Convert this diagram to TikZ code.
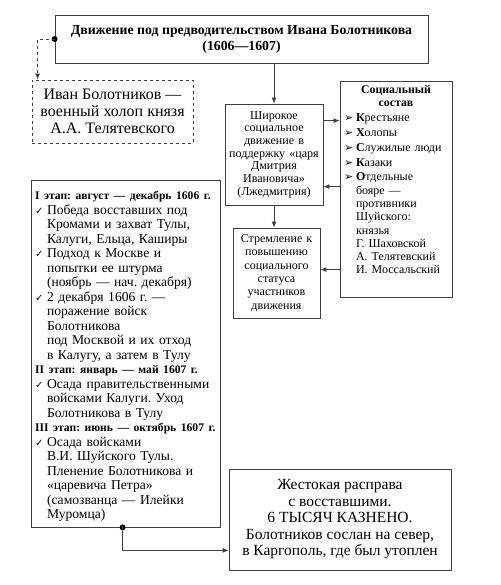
\documentclass[tikz,border=0pt]{standalone}
\usepackage{fontspec}
\setmainfont{Liberation Serif}
\newfontfamily\symfont{DejaVu Sans}
\usepackage{xcolor}
\usepackage{tikz}
\usetikzlibrary{arrows.meta,calc,positioning}
\frenchspacing

\newcommand{\chk}{\par\noindent\makebox[12pt][l]{\symfont\fontsize{10}{10}\selectfont ✓}}
\newcommand{\arrit}{\par\vspace{1.5pt}\noindent\makebox[12pt][l]{\symfont\fontsize{11}{11}\selectfont ➢}}
\newcommand{\ind}{\\\hspace*{12pt}}
\newcommand{\stage}[1]{\par\noindent{\fontsize{11.6}{14.5}\selectfont\bfseries #1}}

\begin{document}
\begin{tikzpicture}[
	x=1pt, y=-1pt,
	box/.style = {shape=rectangle, draw=black!75, line width=0.8pt,
	align=center, inner sep=3pt},
	link/.style = {draw=black!75, line width=0.8pt, -{Latex[length=6pt,width=5pt]}},
	dot/.style = {fill=black, circle, inner sep=0pt, minimum size=6pt}
]
\useasboundingbox (0,0) rectangle (500,585);

\node[box, minimum width=373, minimum height=48,
	font=\fontsize{13.8}{16}\selectfont\bfseries] (title) at (241.5,39)
	{Движение под предводительством Ивана Болотникова\\(1606—1607)};

\node[box, dashed, minimum width=161, minimum height=63,
	font=\fontsize{16}{17}\selectfont] (holop) at (112.5,111.5)
	{Иван Болотников —\\военный холоп князя\\А.А. Телятевского};

\node[box, text width=92, minimum height=101,
	font=\fontsize{12.1}{12.7}\selectfont] (shirokoe) at (274,154.5)
	{Широкое\\социальное\\движение в\\поддержку «царя\\Дмитрия\\Ивановича»\\(Лжедмитрия)};

\node[box, text width=104, minimum height=215, align=left, inner sep=4pt,
	font=\fontsize{12}{13.3}\selectfont] (sostav) at (396,189.5)
	{{\centering\fontsize{11.8}{13}\selectfont\bfseries Социальный\\состав\par}
	\arrit\textbf{К}рестьяне
	\arrit\textbf{Х}олопы
	\arrit\textbf{С}лужилые люди
	\arrit\textbf{К}азаки
	\arrit\textbf{О}тдельные\ind бояре —\ind противники\ind Шуйского:\ind князья\ind Г. Шаховской\ind А. Телятевский\ind И. Моссальский
	\par\vspace{6pt}\null};

\node[box, text width=81, minimum height=90,
	font=\fontsize{12}{13.3}\selectfont] (stremlenie) at (276.5,273)
	{Стремление к\\повышению\\социального\\статуса\\участников\\движения};

\node[box, text width=181, minimum height=347, align=left, inner sep=4pt,
	font=\fontsize{13.6}{14.5}\selectfont] (etapy) at (125.5,353.5)
	{\stage{I этап: август — декабрь 1606 г.}
	\chk Победа восставших под\ind Кромами и захват Тулы,\ind Калуги, Ельца, Каширы
	\chk Подход к Москве и\ind попытки ее штурма\ind (ноябрь — нач. декабря)
	\chk 2 декабря 1606 г. —\ind поражение войск\ind Болотникова\ind под Москвой и их отход\ind в Калугу, а затем в Тулу
	\stage{II этап: январь — май 1607 г.}
	\chk Осада правительственными\ind войсками Калуги. Уход\ind Болотникова в Тулу
	\stage{III этап: июнь — октябрь 1607 г.}
	\chk Осада войсками\ind В.И. Шуйского Тулы.\ind Пленение Болотникова и\ind «царевича Петра»\ind (самозванца — Илейки\ind Муромца)};

\node[box, minimum width=222, minimum height=101,
	font=\fontsize{15.5}{16.5}\selectfont] (rasprava) at (340,519.5)
	{Жестокая расправа\\с восставшими.\\6 ТЫСЯЧ КАЗНЕНО.\\Болотников сослан на север,\\в Каргополь, где был утоплен};

\node[dot] (d1) at (title.west) {};
\node[dot] (d2) at ($(etapy.south west)+(92,0)$) {};
\coordinate (c1) at ($(holop.north west)+(6,0)$);
\coordinate (c2) at ($(rasprava.south west)+(0,-20)$);
\coordinate (s1) at ($(shirokoe.north east)+(0,17)$);
\coordinate (s2) at ($(shirokoe.north east)+(0,83)$);
\coordinate (s3) at ($(stremlenie.north east)+(0,42)$);

\draw[link, dashed] (d1.center) -| (c1);
\draw[link] (title.south -| shirokoe.north) -- (shirokoe.north);
\draw[link] (s1) -- (s1 -| sostav.west);
\draw[link] (s2 -| sostav.west) -- (s2);
\draw[link] (shirokoe.south) -- (shirokoe.south |- stremlenie.north);
\draw[link] (s3 -| sostav.west) -- (s3);
\draw[link] (d2.center) |- (c2);
\end{tikzpicture}
\end{document}
